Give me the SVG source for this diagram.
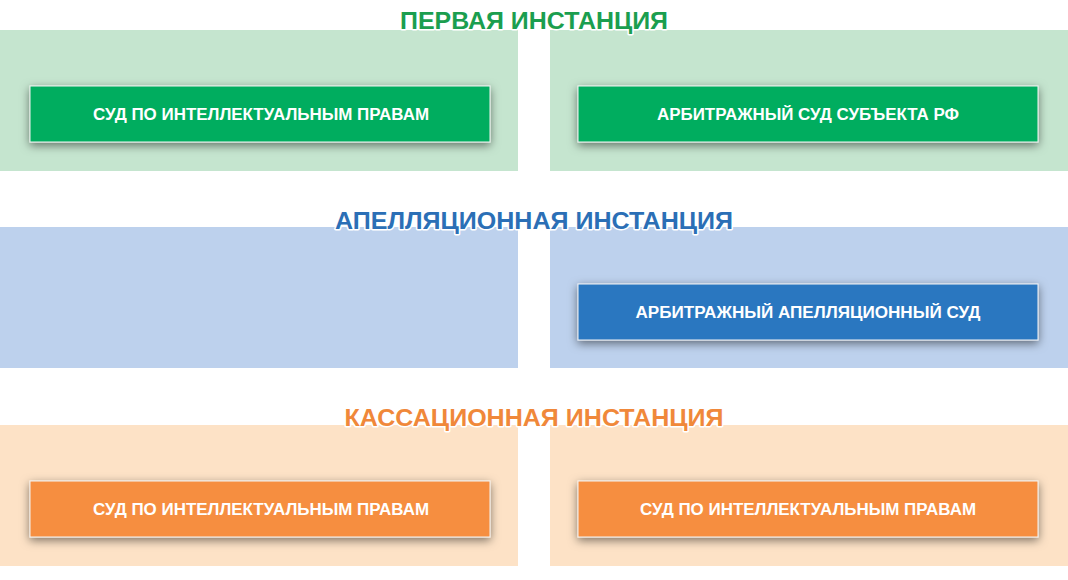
<svg xmlns="http://www.w3.org/2000/svg" width="1068" height="580" viewBox="0 0 1068 580">
<defs>
<filter id="sh" x="-10%" y="-40%" width="120%" height="180%">
<feDropShadow dx="0" dy="3" stdDeviation="5" flood-color="#000" flood-opacity="0.5"/>
</filter>
<style>
.title{font-family:"Liberation Sans",Arial,sans-serif;font-weight:bold;font-size:24px;text-anchor:middle;stroke:#fff;stroke-width:3px;paint-order:stroke;stroke-linejoin:round}
.lbl{font-family:"Liberation Sans",Arial,sans-serif;font-weight:bold;font-size:16px;fill:#fff;text-anchor:middle}
.box{stroke:#f4f4f4;stroke-width:1;filter:url(#sh)}
.pg{fill:#c5e5cf}.pb{fill:#bdd1ed}.po{fill:#fde2c6}
.bg{fill:#00ad5f}.bb{fill:#2a77c0}.bo{fill:#f68e3f}
</style>
</defs>
<rect width="1068" height="580" fill="#fff"/>
<g id="panels">
<rect class="pg" x="0" y="30" width="518" height="141"/>
<rect class="pg" x="550" y="30" width="518" height="141"/>
<rect class="pb" x="0" y="227" width="518" height="141"/>
<rect class="pb" x="550" y="227" width="518" height="141"/>
<rect class="po" x="0" y="425" width="518" height="141"/>
<rect class="po" x="550" y="425" width="518" height="141"/>
</g>
<g id="titles">
<text class="title" x="534" y="29" fill="#1b9e4f" textLength="268" lengthAdjust="spacingAndGlyphs">ПЕРВАЯ ИНСТАНЦИЯ</text>
<text class="title" x="534" y="229" fill="#2b6fb6" textLength="398" lengthAdjust="spacingAndGlyphs">АПЕЛЛЯЦИОННАЯ ИНСТАНЦИЯ</text>
<text class="title" x="534" y="426" fill="#f0883a" textLength="379" lengthAdjust="spacingAndGlyphs">КАССАЦИОННАЯ ИНСТАНЦИЯ</text>
</g>
<g id="node-first-ip">
<rect class="box bg" x="30" y="86" width="460" height="56"/>
<text class="lbl" x="261" y="120" textLength="336" lengthAdjust="spacingAndGlyphs">СУД ПО ИНТЕЛЛЕКТУАЛЬНЫМ ПРАВАМ</text>
</g>
<g id="node-first-arb">
<rect class="box bg" x="578" y="86" width="460" height="56"/>
<text class="lbl" x="808" y="120" textLength="302" lengthAdjust="spacingAndGlyphs">АРБИТРАЖНЫЙ СУД СУБЪЕКТА РФ</text>
</g>
<g id="node-appeal-arb">
<rect class="box bb" x="578" y="284" width="460" height="56"/>
<text class="lbl" x="808" y="318" textLength="345" lengthAdjust="spacingAndGlyphs">АРБИТРАЖНЫЙ АПЕЛЛЯЦИОННЫЙ СУД</text>
</g>
<g id="node-cass-left">
<rect class="box bo" x="30" y="481" width="460" height="56"/>
<text class="lbl" x="261" y="515" textLength="336" lengthAdjust="spacingAndGlyphs">СУД ПО ИНТЕЛЛЕКТУАЛЬНЫМ ПРАВАМ</text>
</g>
<g id="node-cass-right">
<rect class="box bo" x="578" y="481" width="460" height="56"/>
<text class="lbl" x="808" y="515" textLength="336" lengthAdjust="spacingAndGlyphs">СУД ПО ИНТЕЛЛЕКТУАЛЬНЫМ ПРАВАМ</text>
</g>
<g id="connectors"></g>
</svg>
